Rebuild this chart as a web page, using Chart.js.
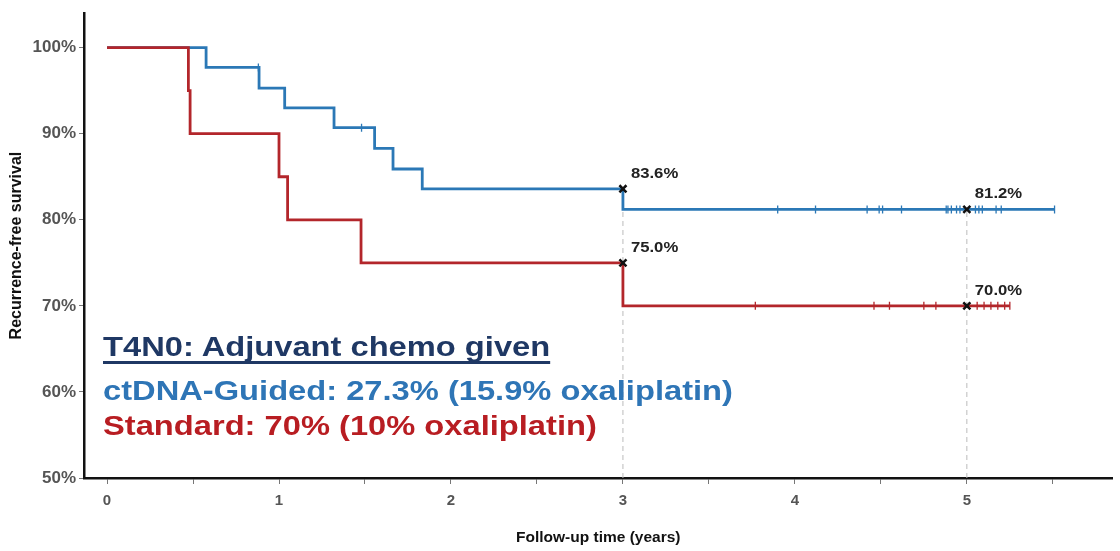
<!DOCTYPE html>
<html>
<head>
<meta charset="utf-8">
<script src="https://cdn.jsdelivr.net/npm/chart.js@4.4.1/dist/chart.umd.min.js"></script>
<style>
  html, body { margin: 0; padding: 0; background: #fff; }
  #wrap { position: relative; width: 1120px; height: 551px; }
  canvas { position: absolute; left: 0; top: 0; }
  .note { position: absolute; left: 103px; font-family: "Liberation Sans", Arial, sans-serif; font-weight: bold; white-space: nowrap; font-size: 27px; line-height: 30px; transform: scaleX(1.21); transform-origin: 0 0; }
</style>
</head>
<body>
<div id="wrap">
  <canvas id="c" width="1120" height="551"></canvas>
  <div class="note" id="n1" style="top:332px;color:#1f3864;text-decoration:underline;text-decoration-thickness:2.5px;text-underline-offset:5px;text-decoration-skip-ink:none;">T4N0: Adjuvant chemo given</div>
  <div class="note" id="n2" style="top:376px;color:#2e75b6;">ctDNA-Guided: 27.3% (15.9% oxaliplatin)</div>
  <div class="note" id="n3" style="top:411px;color:#b81d22;">Standard: 70% (10% oxaliplatin)</div>
</div>
<script>
// ---- Data ----
const guidedTimes  = [0, 0.576, 0.884, 1.033, 1.320, 1.556, 1.663, 1.833, 3.0, 5.51];
const guidedValues = [100, 97.7, 95.3, 93.0, 90.7, 88.3, 85.9, 83.6, 81.2, 81.2];
const guidedCensorTimes  = [0.88, 1.48, 3.90, 4.12, 4.42, 4.49, 4.51, 4.62, 4.88, 4.89, 4.91, 4.94, 4.96, 5.05, 5.07, 5.09, 5.17, 5.20, 5.51];
const guidedCensorValues = [97.7, 90.7, 81.2, 81.2, 81.2, 81.2, 81.2, 81.2, 81.2, 81.2, 81.2, 81.2, 81.2, 81.2, 81.2, 81.2, 81.2, 81.2, 81.2];

const standardTimes  = [0, 0.473, 0.483, 1.00, 1.05, 1.477, 3.0, 5.25];
const standardValues = [100, 95, 90, 85, 80, 75, 70, 70];
const standardCensorTimes  = [3.77, 4.46, 4.55, 4.75, 4.82, 5.06, 5.10, 5.14, 5.18, 5.22, 5.25];
const standardCensorValues = [70, 70, 70, 70, 70, 70, 70, 70, 70, 70, 70];

const markTimes  = [3, 5, 3, 5];
const markValues = [83.6, 81.2, 75.0, 70.0];
const markLabels = ["83.6%", "81.2%", "75.0%", "70.0%"];

const xTickValues = [0, 0.5, 1, 1.5, 2, 2.5, 3, 3.5, 4, 4.5, 5, 5.5];
const xTickLabels = ["0", "", "1", "", "2", "", "3", "", "4", "", "5", ""];
const yTickValues = [50, 60, 70, 80, 90, 100];
const yTickLabels = ["50%", "60%", "70%", "80%", "90%", "100%"];

const xTitle = "Follow-up time (years)";
const yTitle = "Recurrence-free survival";

// ---- Styles ----
const BLUE = "#2b78b6";
const RED = "#b3262b";
const FONT = '"Liberation Sans", Arial, sans-serif';

const toPts = (xs, ys) => xs.map((x, i) => ({ x: x, y: ys[i] }));

const datasets = [
  { type: 'line', data: [{x: 3, y: 50}, {x: 3, y: 83.6}], borderColor: '#bbbbbb', borderWidth: 1, borderDash: [5, 4], pointRadius: 0, order: 10 },
  { type: 'line', data: [{x: 5, y: 50}, {x: 5, y: 81.2}], borderColor: '#bbbbbb', borderWidth: 1, borderDash: [5, 4], pointRadius: 0, order: 10 },
  { type: 'line', label: 'ctDNA-Guided', data: toPts(guidedTimes, guidedValues), borderColor: BLUE, borderWidth: 2.8, stepped: 'before', pointRadius: 0, order: 5 },
  { type: 'line', label: 'Standard', data: toPts(standardTimes, standardValues), borderColor: RED, borderWidth: 2.8, stepped: 'before', pointRadius: 0, order: 4 },
  { type: 'scatter', data: toPts(guidedCensorTimes, guidedCensorValues), pointStyle: 'line', rotation: 90, radius: 4, borderColor: BLUE, borderWidth: 1.3, order: 3 },
  { type: 'scatter', data: toPts(standardCensorTimes, standardCensorValues), pointStyle: 'line', rotation: 90, radius: 4, borderColor: RED, borderWidth: 1.3, order: 3 },
  { type: 'scatter', data: toPts(markTimes, markValues), pointStyle: 'crossRot', radius: 5, borderColor: '#111', borderWidth: 2.5, order: 1 }
];

const labelPlugin = {
  id: 'markLabels',
  afterDatasetsDraw(chart) {
    const ctx = chart.ctx, xs = chart.scales.x, ys = chart.scales.y;
    markTimes.forEach((t, i) => {
      const px = xs.getPixelForValue(t), py = ys.getPixelForValue(markValues[i]);
      ctx.save();
      ctx.font = 'bold 14.5px ' + FONT;
      ctx.fillStyle = '#222';
      ctx.textAlign = 'left';
      ctx.textBaseline = 'alphabetic';
      ctx.translate(px + 8, py - 11);
      ctx.scale(1.15, 1);
      ctx.fillText(markLabels[i], 0, 0);
      ctx.restore();
    });
  }
};

new Chart(document.getElementById('c'), {
  data: { datasets },
  options: {
    responsive: false,
    animation: false,
    layout: { padding: { top: 12, right: 0, left: 0, bottom: 0 } },
    plugins: { legend: { display: false }, tooltip: { enabled: false } },
    scales: {
      x: {
        type: 'linear', min: -0.134, max: 5.847,
        afterBuildTicks: s => { s.ticks = xTickValues.map(v => ({ value: v })); },
        afterFit: s => { s.height = 73; },
        ticks: {
          autoSkip: false, maxRotation: 0, padding: 8,
          color: '#555', font: { family: FONT, weight: 'bold', size: 15 },
          callback: (v, i) => xTickLabels[i]
        },
        grid: { drawOnChartArea: false, drawTicks: true, tickLength: 6, tickColor: '#777', tickWidth: 1 },
        border: { color: '#111', width: 2.5 },
        title: { display: true, text: xTitle, color: '#111', font: { family: FONT, weight: 'bold', size: 15.5 }, padding: { top: 22 } }
      },
      y: {
        type: 'linear', min: 50, max: 104,
        afterBuildTicks: s => { s.ticks = yTickValues.map(v => ({ value: v })); },
        afterFit: s => { s.width = 84; },
        ticks: {
          autoSkip: false, padding: 3,
          color: '#555', font: { family: FONT, weight: 'bold', size: 17 },
          callback: (v, i) => yTickLabels[i]
        },
        grid: { drawOnChartArea: false, drawTicks: true, tickLength: 5, tickColor: '#777', tickWidth: 1 },
        border: { color: '#111', width: 2.5 },
        title: { display: true, text: yTitle, color: '#111', font: { family: FONT, weight: 'bold', size: 16 }, padding: { top: 7, bottom: 0 } }
      }
    }
  },
  plugins: [labelPlugin]
});
</script>
</body>
</html>
